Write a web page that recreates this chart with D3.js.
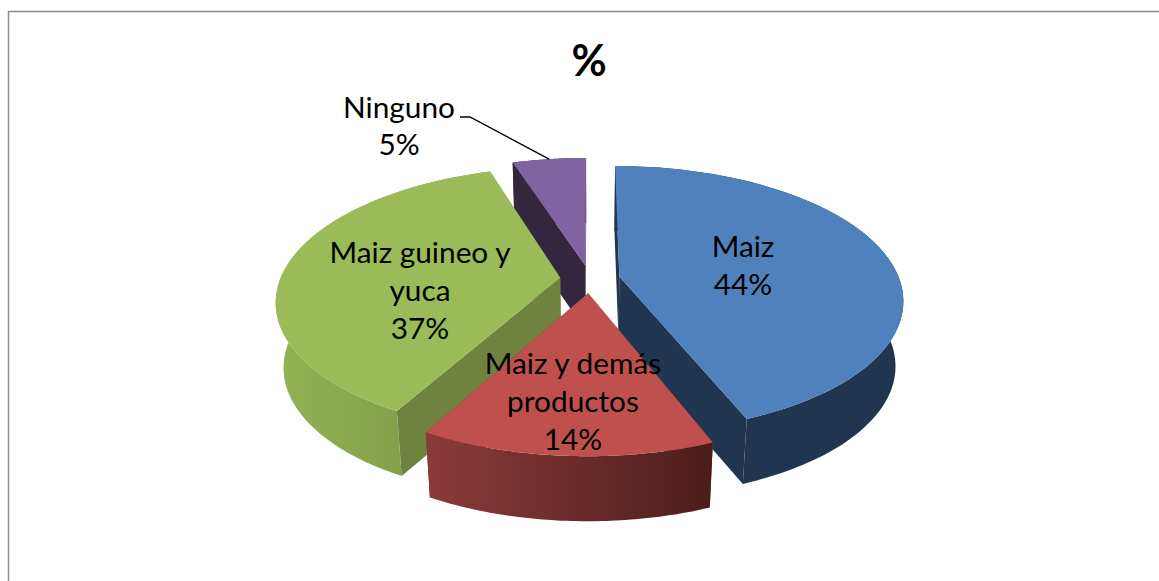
<!DOCTYPE html>
<html><head><meta charset="utf-8">
<script src="https://cdn.jsdelivr.net/npm/d3@7"></script>
<style>html,body{margin:0;padding:0;background:#fff}svg{display:block}text{font-family:Lato,"Open Sans",sans-serif;fill:#000}</style>
</head><body><svg id="c" width="1159" height="581"></svg>
<script>
const categories=["Maiz","Maiz y demás productos","Maiz guineo y yuca","Ninguno"];
const values=[44,14,37,5];
const topColors=["#4f81bd","#c0504d","#9bbb59","#8064a2"];
const wallColors=["#1f3550","#7f3432","#6f833e","#33263f"];
const sideFrom=["#1f3550","#8b3b39","#93b254","#33263f"];
const sideTo=["#1f3550","#4c1d1a","#7b9344","#33263f"];
const labelLines=[["Maiz","44%"],["Maiz y demás","productos","14%"],["Maiz guineo y","yuca","37%"],["Ninguno","5%"]];
const title="%";

const W=1159,H=581;
const cx=590,cy=279,R=280,Ry=130,k=0.17,explode=0.107,depth=65,shrink=0.975;
const svg=d3.select("#c");
svg.append("rect").attr("x",8.5).attr("y",11.5).attr("width",1170).attr("height",600).attr("fill","#fff").attr("stroke","#8c8c8c").attr("stroke-width",1.5);
const defs=svg.append("defs");

const arcs=d3.pie().sort(null).value(d=>d)(values);
const proj=(u,v)=>{const w=1-k*v;return [cx+R*u/w,cy+Ry*v/w];};
const low=p=>[cx+(p[0]-cx)*shrink,p[1]+depth];

function slice(a){
  const mid=(a.startAngle+a.endAngle)/2;
  const ox=explode*Math.sin(mid),oy=-explode*Math.cos(mid);
  const pt=(t,r)=>proj(ox+r*Math.sin(t),oy-r*Math.cos(t));
  const apex=pt(0,0);
  const ts=d3.range(0,61).map(i=>a.startAngle+(a.endAngle-a.startAngle)*i/60);
  const rim=ts.map(t=>pt(t,1));
  return {apex,rim};
}
const line=d3.line();
const order=[3,2,0,1];
order.forEach(i=>{
  const s=slice(arcs[i]);
  const g=svg.append("g");
  const rimLow=s.rim.map(low);
  const xs=s.rim.map(p=>p[0]);
  const id="side"+i;
  const lg=defs.append("linearGradient").attr("id",id).attr("gradientUnits","userSpaceOnUse")
    .attr("x1",d3.min(xs)).attr("x2",d3.max(xs)).attr("y1",0).attr("y2",0);
  lg.append("stop").attr("offset",0).attr("stop-color",sideFrom[i]);
  lg.append("stop").attr("offset",1).attr("stop-color",sideTo[i]);
  const first=s.rim[0],last=s.rim[s.rim.length-1];
  g.append("path").attr("d",line([s.apex,first,low(first),low(s.apex)])+"Z").attr("fill",wallColors[i]);
  g.append("path").attr("d",line([s.apex,last,low(last),low(s.apex)])+"Z").attr("fill",wallColors[i]);
  g.append("path").attr("d",line(s.rim.concat(rimLow.slice().reverse()))+"Z").attr("fill",`url(#${id})`);
  g.append("path").attr("d",line([s.apex].concat(s.rim))+"Z").attr("fill",topColors[i]);
});

// leader line of the last category
const leadEnd=slice(arcs[3]).rim[30];
svg.append("path").attr("d",line([[460,117],[470,117],[leadEnd[0],leadEnd[1]]]))
  .attr("fill","none").attr("stroke","#000").attr("stroke-width",1.4);

// labels
const labelPos=[[743,247],[573,364],[420,253],[399,108]];
const lh=[37.5,38,38,37];
labelLines.forEach((ls,i)=>{
  const t=svg.append("text").attr("text-anchor","middle").attr("font-size",29.8);
  ls.forEach((l,j)=>t.append("tspan").attr("x",labelPos[i][0]).attr("y",labelPos[i][1]+10+j*lh[i]).text(l));
});
svg.append("text").attr("x",589).attr("y",76).attr("text-anchor","middle").attr("font-size",43).attr("font-weight",700).text(title);
</script></body></html>
